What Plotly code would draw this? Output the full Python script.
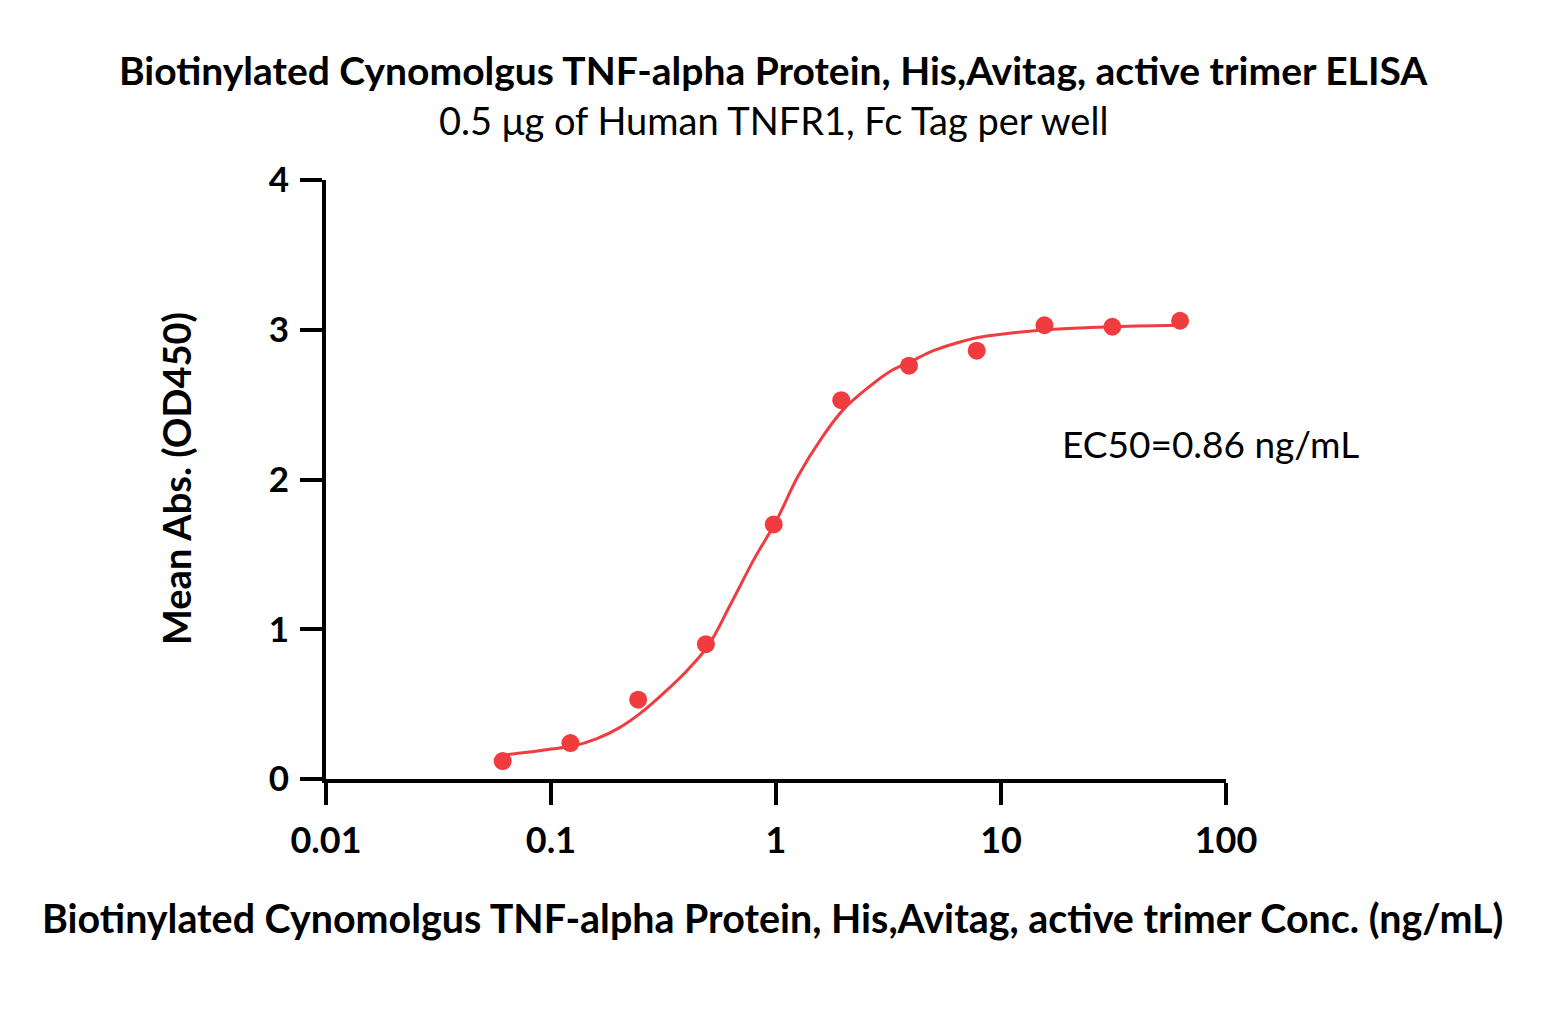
import plotly.graph_objects as go

# Measured data points
conc = [0.061, 0.122, 0.244, 0.488, 0.977, 1.95, 3.9, 7.8, 15.6, 31.25, 62.5]
od450 = [0.12, 0.24, 0.53, 0.90, 1.70, 2.53, 2.76, 2.86, 3.03, 3.02, 3.06]

# Fitted curve
curve_x = [0.061, 0.08, 0.1, 0.125, 0.16, 0.2, 0.25, 0.32, 0.4, 0.5, 0.63, 0.8,
           1.0, 1.25, 1.6, 2.0, 2.5, 3.2, 4.0, 5.0, 6.3, 8.0, 10, 16, 25, 40, 62.5]
curve_y = [0.16, 0.18, 0.20, 0.22, 0.27, 0.34, 0.44, 0.58, 0.72, 0.89, 1.17, 1.47,
           1.72, 2.02, 2.28, 2.47, 2.60, 2.72, 2.79, 2.86, 2.91, 2.95, 2.97, 3.00, 3.015, 3.025, 3.03]

x_tickvals = [0.01, 0.1, 1, 10, 100]
x_ticktext = ["0.01", "0.1", "1", "10", "100"]
y_tickvals = [0, 1, 2, 3, 4]

title = "Biotinylated Cynomolgus TNF-alpha Protein, His,Avitag, active trimer ELISA"
subtitle = "0.5 μg of Human TNFR1, Fc Tag per well"
xlabel = "Biotinylated Cynomolgus TNF-alpha Protein, His,Avitag, active trimer Conc. (ng/mL)"
ylabel = "Mean Abs. (OD450)"
ec50_text = "EC50=0.86 ng/mL"

RED = "#F03C3F"
FONT = "Lato"

fig = go.Figure()
fig.add_trace(go.Scatter(x=curve_x, y=curve_y, mode="lines",
                         line=dict(color=RED, width=3, shape="spline"),
                         hoverinfo="skip", showlegend=False))
fig.add_trace(go.Scatter(x=conc, y=od450, mode="markers",
                         marker=dict(color=RED, size=18, line=dict(width=0)),
                         showlegend=False))

W, H = 1548, 1035
L, R, T, B = 326, 1226, 180, 779
pw, ph = R - L, B - T

def px(x):
    return (x - L) / pw

def py(y):
    return (B - y) / ph

fig.update_layout(
    width=W, height=H,
    margin=dict(l=L, r=W - R, t=T, b=H - B, pad=0),
    paper_bgcolor="white", plot_bgcolor="white",
    font=dict(family=FONT, color="black"),
    showlegend=False,
)
fig.update_xaxes(type="log", range=[-2, 2], tickvals=x_tickvals, ticktext=x_ticktext,
                 showline=True, linecolor="black", linewidth=4,
                 ticks="outside", ticklen=22, tickwidth=4, tickcolor="black",
                 showgrid=False, zeroline=False, ticklabelstandoff=5,
                 tickfont=dict(family=FONT, size=36, color="black", weight="bold"))
fig.update_yaxes(range=[0, 4], tickvals=y_tickvals,
                 showline=True, linecolor="black", linewidth=4,
                 ticks="outside", ticklen=22, tickwidth=4, tickcolor="black",
                 showgrid=False, zeroline=False, ticklabelstandoff=4,
                 tickfont=dict(family=FONT, size=35, color="black", weight="bold"))

anns = [
    dict(text=title, x=px(773), y=py(70), font=dict(size=39, weight="bold")),
    dict(text=subtitle, x=px(773), y=py(120), font=dict(size=38)),
    dict(text=xlabel, x=px(772), y=py(917), font=dict(size=39.4, weight="bold")),
    dict(text=ylabel, x=px(176), y=py(479), textangle=-90, font=dict(size=38, weight="bold")),
    dict(text=ec50_text, x=px(1060), y=py(443), xanchor="left", font=dict(size=37)),
]
for a in anns:
    a.setdefault("xanchor", "center")
    a["yanchor"] = "middle"
    a["xref"] = "paper"
    a["yref"] = "paper"
    a["showarrow"] = False
    a["font"]["family"] = FONT
    a["font"]["color"] = "black"
    fig.add_annotation(**a)

fig.write_html("out.html")
